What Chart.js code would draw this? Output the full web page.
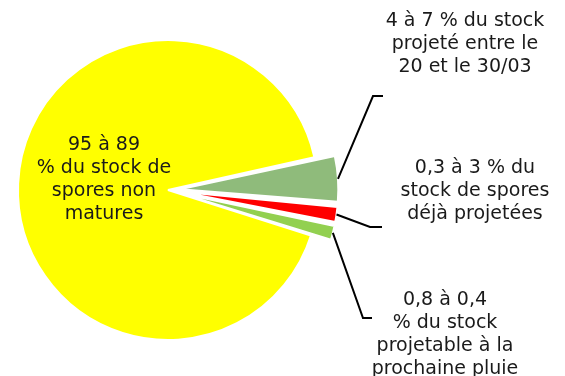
<!DOCTYPE html>
<html>
<head>
<meta charset="utf-8">
<script src="https://cdn.jsdelivr.net/npm/chart.js@4/dist/chart.umd.min.js"></script>
<style>
  html, body { margin: 0; padding: 0; background: #fff; }
  #wrap { width: 565px; height: 376px; position: relative; }
</style>
</head>
<body>
<div id="wrap"><canvas id="pie"></canvas></div>
<script>
// slices, in drawing order (clockwise from the top of the green one)
const categories = [
    ["4 à 7 % du stock", "projeté entre le", "20 et le 30/03"],
    ["0,3 à 3 % du", "stock de spores", "déjà projetées"],
    ["0,8 à 0,4", "% du stock", "projetable à la", "prochaine pluie"],
    ["95 à 89", "% du stock de", "spores non", "matures"]
];
const shares = [4.9, 1.8, 1.7, 91.6];
const sliceColors = ['#8fbb7b', '#ff0000', '#92d050', '#ffff00'];
// chart.js "offset" (it moves a thin slice out by roughly offset / 2)
const explode = [48, 43, 43, 0];

// where each label sits, and the elbow of its leader line (null = label on the slice)
const labelSpots = [
    { x: 465, y: 21, elbow: [373, 96], end: [383, 96] },
    { x: 475, y: 168, elbow: [370, 227], end: [382, 227] },
    { x: 445, y: 300, elbow: [363, 318], end: [372, 318] },
    { x: 104, y: 145, elbow: null }
];

// same shift as ArcElement.draw in chart.js v4
function arcShift(a, off) {
    const c = a.endAngle - a.startAngle;
    const fix = 1 - Math.sin(Math.min(Math.PI, c));
    return off / 4 * (1 + fix);
}

const labelPlugin = {
    id: 'sliceLabels',
    afterDraw(chart) {
        const ctx = chart.ctx;
        const arcs = chart.getDatasetMeta(0).data;
        ctx.save();
        ctx.font = '19px "DejaVu Sans", Verdana, sans-serif';
        ctx.fillStyle = '#1a1a1a';
        ctx.textAlign = 'center';
        ctx.textBaseline = 'middle';
        categories.forEach((lines, i) => {
            const spot = labelSpots[i];
            lines.forEach((t, k) => ctx.fillText(t, spot.x, spot.y + k * 23));
            if (!spot.elbow) return;
            const a = arcs[i];
            const mid = (a.startAngle + a.endAngle) / 2;
            const r = a.outerRadius + arcShift(a, explode[i]);
            ctx.beginPath();
            ctx.moveTo(a.x + Math.cos(mid) * r, a.y + Math.sin(mid) * r);
            ctx.lineTo(spot.elbow[0], spot.elbow[1]);
            ctx.lineTo(spot.end[0], spot.end[1]);
            ctx.strokeStyle = '#000';
            ctx.lineWidth = 2;
            ctx.stroke();
        });
        ctx.restore();
    }
};

new Chart(document.getElementById('pie'), {
    type: 'pie',
    data: {
        labels: categories.map(l => l.join(' ')),
        datasets: [{
            data: shares,
            backgroundColor: sliceColors,
            borderColor: '#ffffff',
            borderWidth: 2,
            offset: explode,
            radius: 150,
            clip: false
        }]
    },
    options: {
        responsive: true,
        maintainAspectRatio: false,
        animation: false,
        rotation: 77.4,
        layout: { padding: { left: 0, right: 229, top: 4, bottom: 0 } },
        plugins: {
            legend: { display: false },
            tooltip: { enabled: false }
        }
    },
    plugins: [labelPlugin]
});
</script>
</body>
</html>
